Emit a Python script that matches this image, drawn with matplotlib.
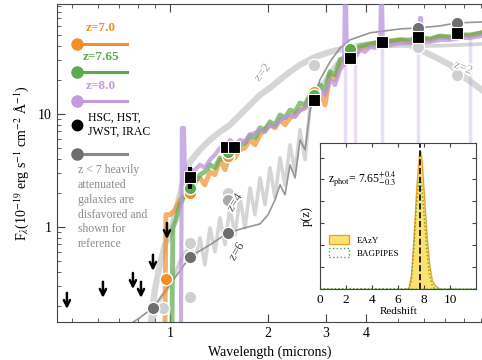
import matplotlib

matplotlib.use("Agg")
import matplotlib.pyplot as plt
import matplotlib.patheffects as pe
from matplotlib.ticker import LogLocator, MultipleLocator, NullFormatter

plt.rcParams.update(
    {
        "font.family": ["Liberation Serif", "DejaVu Serif"],
        "mathtext.fontset": "stix",
        "font.size": 10,
        "xtick.direction": "in",
        "ytick.direction": "in",
    }
)

ORANGE = "#f0902c"
GREEN = "#5aab4b"
PURPLE = "#b994dc"
GREY_LT = "#d2d2d2"
GREY_MD = "#c8c8c8"
GREY_DK = "#8c8c8c"

# model SEDs (wavelength in micron, F_lambda in 1e-19 erg/s/cm2/A)
wl_z70 = [0.93, 0.965, 0.972, 1.00, 1.036, 1.073, 1.112, 1.152, 1.193, 1.236, 1.280, 1.327, 1.374, 1.424,
          1.475, 1.527, 1.583, 1.640, 1.699, 1.760, 1.823, 1.889, 1.957, 2.027, 2.10, 2.176, 2.254, 2.335,
          2.42, 2.506, 2.597, 2.69, 2.787, 2.887, 2.99, 3.097, 3.209, 3.324, 3.44, 3.567, 3.695, 3.83,
          4.11, 4.41, 4.73, 5.08, 5.45, 5.85, 6.28, 6.73, 7.23, 7.76, 8.32, 9.06]
f_z70 = [0.12, 0.12, 1.28, 1.28, 1.41, 1.73, 1.92, 2.13, 2.61, 2.71, 2.35, 3.07, 2.89, 3.92,
         3.20, 4.34, 4.08, 4.80, 5.00, 5.89, 5.32, 6.52, 7.22, 7.98, 7.52, 8.85, 7.98, 9.22,
         9.79, 10.8, 11.3, 14.7, 13.3, 16.3, 12.0, 22.2, 20.1, 27.2, 30.1, 35.4, 33.3, 38.3,
         40.7, 43.3, 43.3, 45.2, 43.3, 47.0, 45.2, 48.0, 47.0, 50.0, 49.0, 52.2]

wl_z765 = [0.986, 1.014, 1.021, 1.043, 1.073, 1.112, 1.152, 1.193, 1.236, 1.280, 1.327, 1.374, 1.424,
           1.475, 1.527, 1.583, 1.640, 1.699, 1.760, 1.823, 1.889, 1.957, 2.027, 2.10, 2.176, 2.254,
           2.335, 2.42, 2.506, 2.597, 2.69, 2.787, 2.887, 2.99, 3.097, 3.209, 3.324, 3.44, 3.567, 3.695,
           3.83, 4.11, 4.41, 4.73, 5.08, 5.45, 5.85, 6.28, 6.73, 7.23, 7.76, 8.32, 9.06]
f_z765 = [0.12, 0.12, 0.98, 1.15, 1.57, 1.92, 2.31, 2.45, 2.89, 3.07, 3.54, 3.33, 4.08,
          3.92, 4.80, 4.61, 5.32, 5.54, 6.52, 6.13, 7.52, 7.22, 8.50, 7.98, 9.79, 9.22,
          10.8, 10.4, 12.5, 12.0, 14.7, 14.1, 18.0, 16.3, 23.6, 22.2, 30.1, 31.3, 38.3, 36.9,
          39.9, 41.6, 43.3, 44.3, 45.2, 45.2, 47.0, 46.1, 49.0, 48.0, 50.0, 50.0, 52.2]

wl_z80 = [1.058, 1.081, 1.088, 1.104, 1.112, 1.152, 1.193, 1.236, 1.280, 1.327, 1.374, 1.424, 1.475,
          1.527, 1.583, 1.640, 1.699, 1.760, 1.823, 1.889, 1.957, 2.027, 2.10, 2.176, 2.254, 2.335,
          2.42, 2.506, 2.597, 2.69, 2.787, 2.887, 2.99, 3.097, 3.209, 3.324, 3.418, 3.44, 3.467, 3.491,
          3.567, 3.695, 3.83, 3.963, 4.11, 4.255, 4.41, 4.439, 4.47, 4.502, 4.73, 5.08, 5.45, 5.80,
          5.85, 5.89, 5.93, 6.28, 6.73, 7.23, 7.76, 8.32, 9.06]
f_z80 = [0.12, 0.12, 7.5, 7.5, 2.61, 3.07, 3.20, 3.54, 3.33, 3.92, 4.34, 5.00, 4.80,
         5.89, 5.32, 5.89, 5.66, 6.52, 6.79, 7.22, 6.94, 7.98, 7.67, 8.85, 9.22, 9.79,
         9.40, 10.8, 11.3, 13.3, 12.8, 16.3, 14.7, 20.1, 18.0, 24.6, 27.2, 100, 100, 28.8,
         30.1, 31.3, 36.9, 35.4, 39.1, 38.3, 39.9, 100, 100, 39.9, 40.7, 42.4, 42.4, 43.3,
         70.7, 70.7, 43.3, 43.3, 45.2, 45.2, 47.0, 47.0, 49.0]

# faint downward line features of the z=8 models
spike_wl = [3.44, 3.69, 4.47, 5.76, 8.32]
spike_lo = [5.0, 3.5, 2.5, 3.0, 5.5]
spike_hi = [30.0, 33.0, 40.0, 43.0, 47.0]

# lower-z, heavily attenuated reference models
wl_z2 = [0.868, 0.899, 0.932, 0.965, 1.0, 1.036, 1.073, 1.112, 1.152, 1.236, 1.327, 1.424, 1.527,
         1.640, 1.760, 1.889, 2.027, 2.176, 2.335, 2.506, 2.787, 3.097, 3.567, 4.41, 5.08, 5.45,
         5.85, 6.5, 7.23, 8.03, 9.06]
f_z2 = [0.12, 0.277, 0.461, 0.693, 0.849, 1.28, 1.92, 2.89, 3.76, 4.80, 5.89, 6.94, 7.98,
        9.79, 12.0, 14.7, 17.0, 20.1, 23.6, 27.2, 31.9, 35.4, 39.1, 42.4, 43.3, 40.7,
        36.9, 31.9, 27.2, 20.9, 16.3]

wl_z4 = [0.868, 0.932, 1.0, 1.073, 1.152, 1.193, 1.236, 1.280, 1.327, 1.374, 1.424, 1.475, 1.527,
         1.583, 1.640, 1.699, 1.760, 1.823, 1.889, 1.957, 2.027, 2.10, 2.176, 2.254, 2.335, 2.42,
         2.506, 2.597, 2.69, 2.887, 3.097, 3.324, 3.567, 4.11, 5.08, 6.28, 7.76, 9.06]
f_z4 = [0.12, 0.226, 0.307, 0.490, 0.693, 0.510, 0.799, 0.461, 0.980, 0.601, 1.20, 0.693, 1.47,
        0.849, 1.81, 0.980, 2.21, 1.28, 2.71, 1.57, 3.33, 1.81, 4.08, 2.35, 5.32, 3.07,
        7.22, 3.92, 12.0, 17.0, 23.6, 30.1, 35.4, 39.1, 39.9, 39.9, 40.7, 41.6]

wl_z6 = [0.703, 0.809, 0.887, 1.0, 1.152, 1.327, 1.506, 1.699, 1.889, 2.0, 2.10, 2.176, 2.254,
         2.335, 2.42, 2.506, 2.597, 2.69, 2.787, 2.887, 3.097, 3.324, 3.567, 4.11, 5.08, 5.76,
         6.73, 7.59, 9.06]
f_z6 = [0.12, 0.157, 0.192, 0.307, 0.543, 0.693, 0.885, 0.980, 1.06, 1.28, 1.73, 2.35, 1.92,
        3.54, 2.71, 5.89, 4.80, 10.8, 14.7, 20.1, 28.9, 38.3, 45.2, 52.2, 56.5, 57.6,
        60.1, 63.9, 65.1]

# model photometry
mod70_wl = [0.972, 1.152, 1.506, 2.76]
mod70_f = [0.346, 2.00, 4.25, 15.7]
mod765_wl = [1.152, 1.506, 2.76, 3.567]
mod765_f = [2.21, 4.61, 14.7, 37.6]
lt_wl = [0.952, 1.152, 1.152, 1.506, 2.76, 5.76, 7.59]
lt_f = [0.192, 0.722, 0.240, 2.00, 27.2, 39.1, 22.2]
md_wl = [1.506]
md_f = [1.73]
dk_wl = [0.887, 1.152, 1.506, 5.76, 7.59]
dk_f = [0.192, 0.543, 0.885, 57.6, 63.9]

# observed photometry (HSC, HST, JWST, IRAC)
phot_wl = [1.152, 1.485, 1.571, 2.76, 3.567, 4.47, 5.76, 7.59]
phot_f = [2.77, 5.10, 5.10, 13.3, 31.3, 43.3, 48.0, 52.2]
phot_err = [0.6, 0.25, 0.25, 0.8, 2.0, 2.5, 2.5, 3.0]
ul_wl = [0.483, 0.623, 0.770, 0.815, 0.887, 0.979]
ul_f = [0.26, 0.326, 0.39, 0.326, 0.565, 1.08]

# photo-z posterior (inset)
z_grid = [0, 6.6, 6.8, 7.0, 7.2, 7.4, 7.6, 7.7, 7.8, 8.0, 8.2, 8.4, 8.6, 8.8, 9.0, 9.2, 12]
p_eazy = [0, 0, 0.01, 0.10, 0.38, 0.70, 0.92, 0.945, 0.88, 0.62, 0.35, 0.16, 0.06, 0.03, 0.015, 0, 0]
p_bagpipes = [0, 0, 0, 0.05, 0.26, 0.56, 0.74, 0.766, 0.72, 0.50, 0.27, 0.10, 0.03, 0, 0, 0, 0]
z_phot = 7.65

fig = plt.figure(figsize=(4.82, 3.6), dpi=100)
ax = fig.add_axes([0.118, 0.106, 0.882, 0.883])
ax.set_xscale("log")
ax.set_yscale("log")

# reference (disfavoured) low-z models
ax.plot(wl_z4, f_z4, color=GREY_MD, lw=2.6, alpha=0.75, zorder=1)
ax.plot(wl_z2, f_z2, color=GREY_LT, lw=4.5, alpha=0.9, zorder=1)
ax.plot(wl_z6, f_z6, color=GREY_DK, lw=1.2, alpha=0.9, zorder=2)

# favoured high-z models
ax.plot(wl_z70, f_z70, color=ORANGE, lw=3.5, alpha=0.7, zorder=3)
ax.plot(wl_z765, f_z765, color=GREEN, lw=3.5, alpha=0.7, zorder=3)
ax.plot(wl_z80, f_z80, color=PURPLE, lw=3.0, alpha=0.75, zorder=3)
ax.vlines(spike_wl, spike_lo, spike_hi, color=PURPLE, lw=2.5, alpha=0.3, zorder=2)

mkw = dict(ls="none", marker="o", ms=9, mec="white", mew=1.0, zorder=5)
ax.plot(lt_wl, lt_f, color="#cfcfcf", **mkw)
ax.plot(md_wl, md_f, color="#a8a8a8", **mkw)
ax.plot(dk_wl, dk_f, color="#6e6e6e", **mkw)
ax.plot(mod70_wl, mod70_f, color=ORANGE, **mkw)
ax.plot(mod765_wl, mod765_f, color=GREEN, **mkw)

ax.errorbar(phot_wl, phot_f, yerr=phot_err, fmt="s", ms=8, color="black", mec="white", mew=0.8,
            elinewidth=3, capsize=0, zorder=6)
for w, f in zip(ul_wl, ul_f):
    ax.annotate("", xy=(w, f * 0.72), xytext=(w, f),
                arrowprops=dict(arrowstyle="->", color="black", lw=1.8, mutation_scale=11,
                                shrinkA=0, shrinkB=0), zorder=6)

halo = [pe.withStroke(linewidth=2.5, foreground="white")]
ax.text(1.92, 23.1, "z=2", color="#a5a5a5", fontsize=9, rotation=52, ha="center", va="center",
        path_effects=halo, zorder=7)
ax.text(7.93, 25.5, "z=2", color="#a5a5a5", fontsize=9, rotation=-22, ha="center", va="center",
        path_effects=halo, zorder=7)
ax.text(1.58, 1.63, "z=4", color="#555555", fontsize=9, rotation=58, ha="center", va="center",
        path_effects=halo, zorder=7)
ax.text(1.60, 0.60, "z=6", color="#444444", fontsize=9, rotation=58, ha="center", va="center",
        path_effects=halo, zorder=7)

# hand-made key in the upper left
key = [("z=7.0", ORANGE, 0.925, 0.874), ("z=7.65", GREEN, 0.833, 0.786), ("z=8.0", "#c39be0", 0.742, 0.695)]
for label, col, ty, ly in key:
    ax.text(0.104, ty, label, color=col, fontsize=9.5, fontweight="bold", ha="center", va="center",
            transform=ax.transAxes)
    ax.plot([0.047, 0.165], [ly, ly], color=col, lw=2.2, transform=ax.transAxes)
    ax.plot([0.047], [ly], "o", color=col, ms=8, transform=ax.transAxes)
ax.plot([0.047], [0.619], "o", color="black", ms=7.5, transform=ax.transAxes)
ax.text(0.073, 0.619, "HSC, HST,\nJWST, IRAC", fontsize=8.5, va="center", ha="left", linespacing=1.2,
        transform=ax.transAxes)
ax.plot([0.047, 0.165], [0.528, 0.528], color="#8a8a8a", lw=2.2, transform=ax.transAxes)
ax.plot([0.047], [0.528], "o", color="#6e6e6e", ms=8, transform=ax.transAxes)
ax.text(0.049, 0.495, "z < 7 heavily\nattenuated\ngalaxies are\ndisfavored and\nshown for\nreference",
        color="#8c8c8c", fontsize=8.5, va="top", ha="left", linespacing=1.3, transform=ax.transAxes)

ax.set_xlim(0.45, 9.06)
ax.set_ylim(0.144, 94)
ax.set_xticks([1, 2, 3, 4])
ax.set_xticklabels(["1", "2", "3", "4"])
ax.set_xticks([0.5, 0.6, 0.7, 0.8, 0.9, 5, 6, 7, 8, 9], minor=True)
ax.xaxis.set_minor_formatter(NullFormatter())
ax.set_yticks([1, 10])
ax.set_yticklabels(["1", "10"])
ax.yaxis.set_minor_locator(LogLocator(base=10, subs=range(2, 10)))
ax.yaxis.set_minor_formatter(NullFormatter())
ax.tick_params(which="both", direction="in", top=True, right=False, color="#444444", labelsize=10)
ax.tick_params(which="major", length=6)
ax.tick_params(which="minor", length=3)
ax.spines["right"].set_visible(False)
for s in ("left", "bottom", "top"):
    ax.spines[s].set_color("#444444")
ax.set_xlabel("Wavelength (microns)", fontsize=10)
ax.set_ylabel(r"F$_\lambda$(10$^{-19}$ erg s$^{-1}$ cm$^{-2}$ Å$^{-1}$)", fontsize=10, labelpad=5)

# inset: redshift probability distribution
axin = fig.add_axes([0.664, 0.197, 0.324, 0.406])
axin.set_facecolor("white")
axin.fill_between(z_grid, p_eazy, facecolor="#fde36e", edgecolor="#f0a030", lw=1.0, label="EAzY")
axin.fill_between(z_grid, p_bagpipes, facecolor="none", edgecolor="#4aa64a", ls=":", lw=1.0,
                  label="BAGPIPES")
axin.axvline(z_phot, color="black", ls="--", lw=1.2)
axin.set_xlim(0, 12)
axin.set_ylim(0, 1.0)
axin.set_xticks([0, 2, 4, 6, 8, 10])
axin.yaxis.set_major_locator(MultipleLocator(0.15))
axin.set_yticklabels([])
axin.tick_params(which="both", direction="in", top=True, right=True, length=3, labelsize=9.5,
                 color="#444444")
for s in axin.spines.values():
    s.set_color("#444444")
    s.set_linewidth(0.8)
axin.set_xlabel("Redshift", fontsize=8, labelpad=1)
axin.set_ylabel("p(z)", fontsize=9, labelpad=2)
axin.text(0.05, 0.75, r"z$_{\rm phot}$= 7.65$^{+0.4}_{-0.3}$", fontsize=8.5, transform=axin.transAxes,
          va="center", ha="left")
axin.legend(loc="upper left", bbox_to_anchor=(0.03, 0.40), frameon=False, fontsize=6.5,
            handlelength=2.2, handleheight=1.1, borderpad=0, labelspacing=0.4)

fig.savefig("out.png", dpi=100)
